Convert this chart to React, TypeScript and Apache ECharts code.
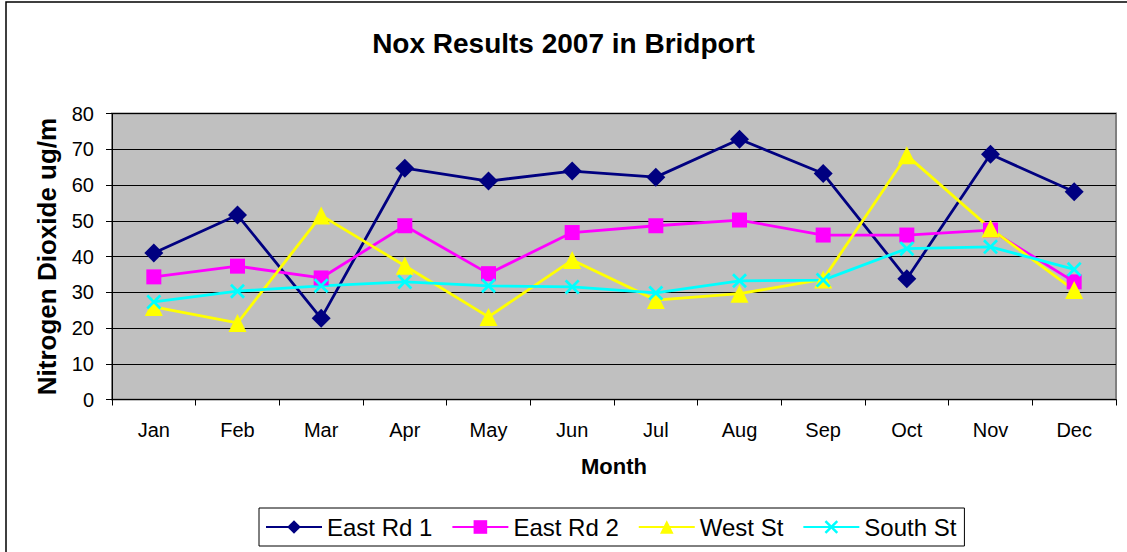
import React, { useEffect, useRef } from "react";
import * as echarts from "echarts";

const months = ["Jan", "Feb", "Mar", "Apr", "May", "Jun", "Jul", "Aug", "Sep", "Oct", "Nov", "Dec"];
const eastRd1 = [41.0, 51.6, 22.7, 64.7, 61.1, 63.9, 62.2, 72.8, 63.2, 33.8, 68.6, 58.1];
const eastRd2 = [34.3, 37.3, 34.0, 48.6, 35.2, 46.7, 48.6, 50.2, 46.0, 46.0, 47.4, 32.9];
const westSt = [25.9, 21.4, 51.5, 37.4, 23.1, 39.0, 27.8, 29.6, 33.6, 68.3, 47.8, 30.6];
const southSt = [27.3, 30.3, 31.8, 32.9, 31.8, 31.5, 29.8, 33.2, 33.4, 42.2, 42.7, 36.4];
const yTicks = { min: 0, max: 80, interval: 10 };

const FONT = "Liberation Sans, Arial, sans-serif";
const crossPath =
  "path://M0,1.3 L1.3,0 L5,3.7 L8.7,0 L10,1.3 L6.3,5 L10,8.7 L8.7,10 L5,6.3 L1.3,10 L0,8.7 L3.7,5 Z";

export default function App() {
  const ref = useRef<HTMLDivElement>(null);
  useEffect(() => {
    document.body.style.margin = "0";
    const chart = echarts.init(ref.current!, null, { renderer: "svg" });
    const mk = (name: string, data: number[], color: string, symbol: string, size: number) => ({
      name,
      type: "line",
      data,
      symbol,
      symbolSize: size,
      showAllSymbol: true,
      lineStyle: { color, width: 2.8 },
      itemStyle: { color, borderWidth: 0 },
      emphasis: { disabled: true },
    });
    chart.setOption({
      animation: false,
      backgroundColor: "#ffffff",
      textStyle: { fontFamily: FONT },
      title: {
        text: "Nox Results 2007 in Bridport",
        left: "center",
        top: 24,
        textStyle: { fontFamily: FONT, fontSize: 28, fontWeight: "bold", color: "#000" },
      },
      graphic: [
        {
          type: "rect",
          shape: { x: 6, y: 2, width: 1200, height: 700 },
          style: { fill: "none", stroke: "#000", lineWidth: 1.5 },
          silent: true,
          z: -1,
        },
      ],
      grid: {
        left: 112,
        top: 113.5,
        right: 11,
        bottom: 152.5,
        show: true,
        backgroundColor: "#C0C0C0",
        borderColor: "#808080",
        borderWidth: 2,
      },
      legend: {
        left: 259,
        top: 508,
        padding: [7, 8, 7, 6],
        itemGap: 19,
        itemWidth: 56,
        itemHeight: 17,
        borderColor: "#000",
        borderWidth: 1,
        backgroundColor: "#fff",
        textStyle: { fontFamily: FONT, fontSize: 24, color: "#000" },
        data: ["East Rd 1", "East Rd 2", "West St", "South St"],
      },
      xAxis: {
        type: "category",
        data: months,
        boundaryGap: true,
        axisLine: { show: true, lineStyle: { color: "#000", width: 1 } },
        axisTick: { show: true, inside: false, length: 6, lineStyle: { color: "#000" } },
        axisLabel: { fontFamily: FONT, fontSize: 20, color: "#000", margin: 20 },
        name: "Month",
        nameLocation: "middle",
        nameGap: 56,
        nameTextStyle: { fontFamily: FONT, fontSize: 22, fontWeight: "bold", color: "#000" },
        splitLine: { show: false },
      },
      yAxis: {
        type: "value",
        min: yTicks.min,
        max: yTicks.max,
        interval: yTicks.interval,
        axisLine: { show: true, lineStyle: { color: "#000", width: 1 } },
        axisTick: { show: true, inside: false, length: 6, lineStyle: { color: "#000" } },
        axisLabel: { fontFamily: FONT, fontSize: 20, color: "#000", margin: 18 },
        splitLine: { show: true, lineStyle: { color: "#000", width: 1 } },
        name: "Nitrogen Dioxide ug/m",
        nameLocation: "middle",
        nameRotate: 90,
        nameGap: 52,
        nameTextStyle: { fontFamily: FONT, fontSize: 26, fontWeight: "bold", color: "#000" },
      },
      series: [
        mk("East Rd 1", eastRd1, "#000080", "diamond", 19),
        mk("East Rd 2", eastRd2, "#FF00FF", "rect", 15),
        mk("West St", westSt, "#FFFF00", "triangle", 18),
        mk("South St", southSt, "#00FFFF", crossPath, 15),
      ],
    });
    return () => chart.dispose();
  }, []);
  return <div ref={ref} style={{ width: 1127, height: 552 }} />;
}
